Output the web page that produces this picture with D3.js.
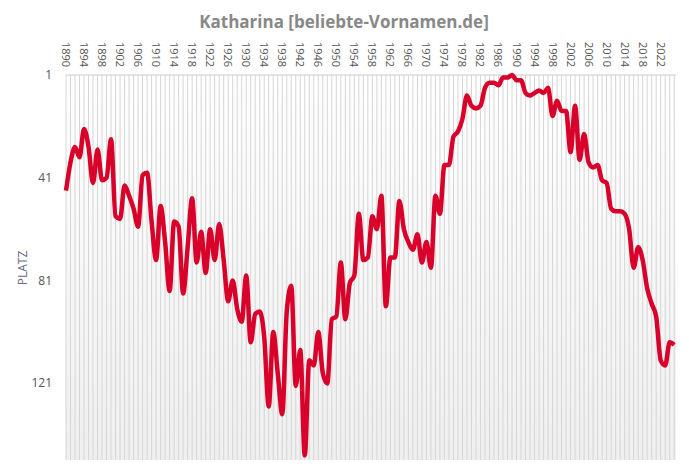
<!DOCTYPE html>
<html>
<head>
<meta charset="utf-8">
<script src="https://d3js.org/d3.v7.min.js"></script>
<style>
body{margin:0;background:#fff;}
text{font-family:"Open Sans",sans-serif;}
</style>
</head>
<body>
<svg id="chart"></svg>
<script>
const startYear = 1890
const ranks = [46,35,29,33,22,29,43,30,42,41,26,56,57,44,48,53,60,40,39,58,
  73,52,66,85,58,60,86,68,49,74,62,78,61,73,59,73,89,81,92,97,
  79,105,94,93,103,130,101,117,133,93,83,122,108,149,112,114,101,117,121,96,
  95,74,96,82,79,55,73,72,56,61,48,91,72,72,50,61,66,69,63,74,
  66,76,48,55,36,36,25,23,18,9,13,14,13,6,4,4,5,2,2,1,
  3,3,8,9,8,7,8,6,17,11,15,15,31,13,34,24,35,37,36,42,
  43,53,54,54,55,61,76,68,73,84,90,95,112,114,105,106]
const data = ranks.map((r,i)=>({year:startYear+i,rank:r}))
const yTicks = [1,41,81,121]
const yearLabels = d3.range(1890,2025,4)

const w = 689, h = 474
const pLeft = 66, pRight = 676, pTop = 75, pBottom = 460
const svg = d3.select('#chart').attr('width',w).attr('height',h)

const x = d3.scaleLinear().domain([1890,2025.4]).range([pLeft,pRight])
const y = d3.scaleLinear().domain([1,150.8]).range([pTop,pBottom])

const defs = svg.append('defs')
const grad = defs.append('linearGradient').attr('id','bg').attr('x1',0).attr('x2',0).attr('y1',0).attr('y2',1)
grad.append('stop').attr('offset','0%').attr('stop-color','#ffffff')
grad.append('stop').attr('offset','100%').attr('stop-color','#efefef')
svg.append('rect').attr('x',pLeft).attr('y',pTop).attr('width',pRight-pLeft).attr('height',pBottom-pTop).attr('fill','url(#bg)')

// Jahres-Gitterlinien
svg.append('g').selectAll('line').data(d3.range(1890,2026)).enter().append('line')
  .attr('x1',d=>x(d)).attr('x2',d=>x(d)).attr('y1',pTop).attr('y2',pBottom)
  .attr('stroke','#d6d6d6').attr('stroke-width',1)
svg.append('line').attr('x1',pLeft).attr('x2',pRight).attr('y1',pTop).attr('y2',pTop).attr('stroke','#cccccc')

// obere Jahresachse
svg.append('g').selectAll('text').data(yearLabels).enter().append('text')
  .attr('transform',d=>'translate('+(x(d)-4)+',42) rotate(90)')
  .attr('font-size',11).attr('fill','#555').text(d=>d)

// y-Achse
svg.append('g').selectAll('text').data(yTicks).enter().append('text')
  .attr('x',52).attr('y',d=>y(d)+4).attr('text-anchor','end')
  .attr('font-size',12).attr('fill','#555').text(d=>d)
svg.append('text').attr('transform','translate(27,268) rotate(-90)')
  .attr('text-anchor','middle').attr('font-size',12).attr('fill','#6b6b8a').text('PLATZ')

svg.append('text').attr('x',344).attr('y',28).attr('text-anchor','middle')
  .attr('font-size',17).attr('font-weight','bold').attr('fill','#888').text('Katharina [beliebte-Vornamen.de]')

const line = d3.line().x(d=>x(d.year)).y(d=>y(d.rank)).curve(d3.curveMonotoneX)
svg.append('path').attr('d',line(data)).attr('fill','none')
  .attr('stroke','#d9002a').attr('stroke-width',4.5).attr('stroke-linejoin','round')
</script>
</body>
</html>
